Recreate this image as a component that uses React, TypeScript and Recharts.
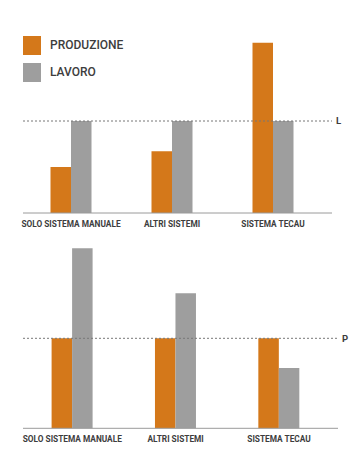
import React from "react";
import { BarChart, Bar, XAxis, YAxis, ReferenceLine } from "recharts";

const categories = ["SOLO SISTEMA MANUALE", "ALTRI SISTEMI", "SISTEMA TECAU"];
const seriesNames = ["PRODUZIONE", "LAVORO"];
const produzioneTop = [50, 67, 185];
const lavoroTop = [100, 100, 100];
const produzioneBottom = [100, 100, 100];
const lavoroBottom = [200, 150, 67];
const refTopValue = 100;
const refTopLabel = "L";
const refBottomValue = 100;
const refBottomLabel = "P";

const ORANGE = "#D4781A";
const GRAY = "#9E9E9E";
const TEXT = "#3d3d3d";
const FONT = "Roboto, 'DejaVu Sans', sans-serif";
const colors = [ORANGE, GRAY];

const topData = categories.map((c, i) => ({ name: c, produzione: produzioneTop[i], lavoro: lavoroTop[i] }));
const bottomData = categories.map((c, i) => ({ name: c, produzione: produzioneBottom[i], lavoro: lavoroBottom[i] }));

const tickStyle = { fontSize: 8.3, fontWeight: 700, fill: TEXT, fontFamily: FONT };

function Chart({ data, height, margin, padding, refValue, refLabel }: any) {
  return (
    <BarChart width={364} height={height} data={data} margin={margin} barGap={0} barSize={20.5}>
      <YAxis hide domain={[0, 200]} />
      <XAxis
        dataKey="name"
        tickLine={false}
        axisLine={{ stroke: "#9a9a9a", strokeWidth: 1 }}
        tick={tickStyle}
        interval={0}
        height={20}
        padding={padding}
      />
      <Bar dataKey="produzione" fill={ORANGE} isAnimationActive={false} />
      <Bar dataKey="lavoro" fill={GRAY} isAnimationActive={false} />
      <ReferenceLine
        y={refValue}
        stroke="#777"
        strokeDasharray="2 2"
        label={{ value: refLabel, position: "right", offset: 4, fill: TEXT, fontSize: 9.5, fontWeight: 700, fontFamily: FONT }}
      />
    </BarChart>
  );
}

export default function App() {
  return (
    <div style={{ position: "absolute", left: 0, top: 0, width: 364, height: 471, background: "#fff", fontFamily: FONT }}>
      <div style={{ position: "absolute", left: 0, top: 0 }}>
        <Chart
          data={topData}
          height={233}
          margin={{ top: 29, right: 32, bottom: 0, left: 23 }}
          padding={{ left: -2.5, right: 8.5 }}
          refValue={refTopValue}
          refLabel={refTopLabel}
        />
      </div>
      <div style={{ position: "absolute", left: 0, top: 233 }}>
        <Chart
          data={bottomData}
          height={216}
          margin={{ top: 15.3, right: 26, bottom: 0.7, left: 23 }}
          padding={{ left: -2.4, right: 7.3 }}
          refValue={refBottomValue}
          refLabel={refBottomLabel}
        />
      </div>
      {seriesNames.map((s, i) => (
        <div key={s} style={{ position: "absolute", left: 23, top: 36 + i * 26.5, height: 19, display: "flex", alignItems: "center" }}>
          <div style={{ width: 18, height: 19, background: colors[i] }} />
          <span style={{ marginLeft: 9, fontSize: 12, fontWeight: 500, color: TEXT, fontFamily: FONT, lineHeight: "19px" }}>{s}</span>
        </div>
      ))}
    </div>
  );
}
